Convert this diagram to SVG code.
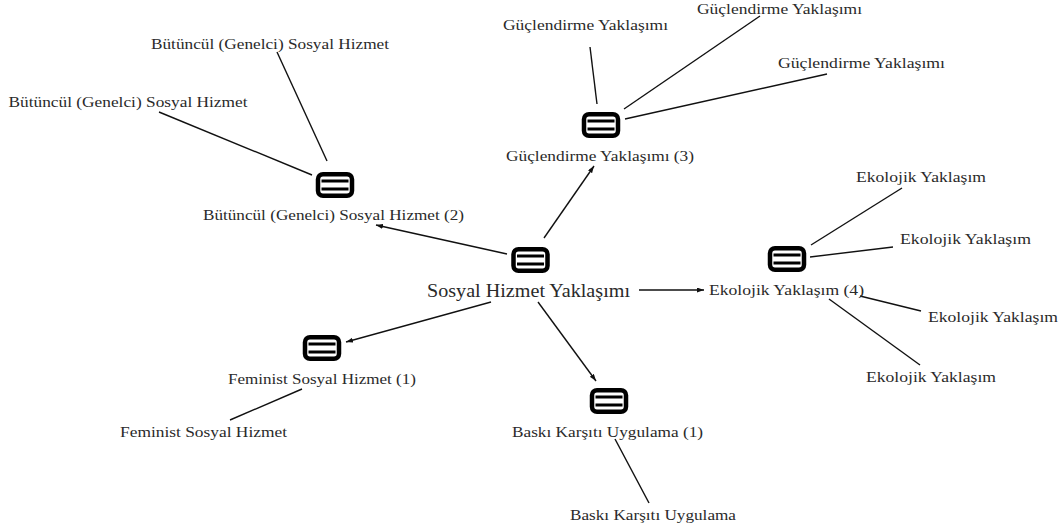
<svg xmlns="http://www.w3.org/2000/svg" width="1060" height="530" viewBox="0 0 1060 530">
<style>
text{font-family:"Liberation Serif","Times New Roman",serif;font-size:15px;fill:#2a2a2a;text-anchor:middle}
.main{font-size:18px}
.c{stroke:#111;stroke-width:1.4;fill:none}
.ic{fill:none;stroke:#000}
</style>
<defs>
<marker id="a" markerUnits="userSpaceOnUse" markerWidth="8" markerHeight="6" refX="7" refY="2.5" orient="auto"><path d="M0 0L7 2.5L0 5Z" fill="#111"/></marker>
<g id="icon">
<rect class="ic" x="-17" y="-10.8" width="34" height="21.6" rx="5" stroke-width="4.5"/>
<path class="ic" d="M-13.5 -4H13.5M-13.5 4H13.5" stroke-width="3.2"/>
</g>
</defs>
<rect width="1060" height="530" fill="#fff"/>
<g id="connectors">
<path class="c" d="M507 254L376 225" marker-end="url(#a)"/>
<path class="c" d="M544 238L594 166" marker-end="url(#a)"/>
<path class="c" d="M639 290H704" marker-end="url(#a)"/>
<path class="c" d="M491 302L346 342" marker-end="url(#a)"/>
<path class="c" d="M538 302L596 381" marker-end="url(#a)"/>
<path class="c" d="M327 161L277 52"/>
<path class="c" d="M312 175L159 112"/>
<path class="c" d="M597 104L590 47"/>
<path class="c" d="M624 109L760 16"/>
<path class="c" d="M625 119L827 74"/>
<path class="c" d="M811 245L902 188"/>
<path class="c" d="M810 257L893 247"/>
<path class="c" d="M860 296L921 311"/>
<path class="c" d="M829 299L920 365"/>
<path class="c" d="M302 389L230 420"/>
<path class="c" d="M615 439L649 503"/>
</g>
<g id="n-root"><use href="#icon" x="530.5" y="260"/><text class="main" x="528.5" y="297" textLength="203" lengthAdjust="spacingAndGlyphs">Sosyal Hizmet Yaklaşımı</text></g>
<g id="n-butuncul"><use href="#icon" x="335" y="185"/><text x="333.5" y="220" textLength="261" lengthAdjust="spacingAndGlyphs">Bütüncül (Genelci) Sosyal Hizmet (2)</text></g>
<g id="n-guclendirme"><use href="#icon" x="601" y="125"/><text x="600" y="161" textLength="188" lengthAdjust="spacingAndGlyphs">Güçlendirme Yaklaşımı (3)</text></g>
<g id="n-ekolojik"><use href="#icon" x="787" y="259"/><text x="786.5" y="295" textLength="155" lengthAdjust="spacingAndGlyphs">Ekolojik Yaklaşım (4)</text></g>
<g id="n-feminist"><use href="#icon" x="322" y="348"/><text x="322" y="384" textLength="188" lengthAdjust="spacingAndGlyphs">Feminist Sosyal Hizmet (1)</text></g>
<g id="n-baski"><use href="#icon" x="609" y="401"/><text x="607.5" y="437" textLength="191" lengthAdjust="spacingAndGlyphs">Baskı Karşıtı Uygulama (1)</text></g>
<g id="l-b1"><text x="270" y="49" textLength="238" lengthAdjust="spacingAndGlyphs">Bütüncül (Genelci) Sosyal Hizmet</text></g>
<g id="l-b2"><text x="128" y="107" textLength="239" lengthAdjust="spacingAndGlyphs">Bütüncül (Genelci) Sosyal Hizmet</text></g>
<g id="l-g1"><text x="585.5" y="30" textLength="165" lengthAdjust="spacingAndGlyphs">Güçlendirme Yaklaşımı</text></g>
<g id="l-g2"><text x="779.5" y="14" textLength="165" lengthAdjust="spacingAndGlyphs">Güçlendirme Yaklaşımı</text></g>
<g id="l-g3"><text x="861.5" y="68" textLength="167" lengthAdjust="spacingAndGlyphs">Güçlendirme Yaklaşımı</text></g>
<g id="l-e1"><text x="921" y="182" textLength="130" lengthAdjust="spacingAndGlyphs">Ekolojik Yaklaşım</text></g>
<g id="l-e2"><text x="965.5" y="244" textLength="131" lengthAdjust="spacingAndGlyphs">Ekolojik Yaklaşım</text></g>
<g id="l-e3"><text x="993" y="322" textLength="130" lengthAdjust="spacingAndGlyphs">Ekolojik Yaklaşım</text></g>
<g id="l-e4"><text x="931" y="382" textLength="130" lengthAdjust="spacingAndGlyphs">Ekolojik Yaklaşım</text></g>
<g id="l-f"><text x="203.5" y="437" textLength="167" lengthAdjust="spacingAndGlyphs">Feminist Sosyal Hizmet</text></g>
<g id="l-bk"><text x="653" y="520" textLength="166" lengthAdjust="spacingAndGlyphs">Baskı Karşıtı Uygulama</text></g>
</svg>
